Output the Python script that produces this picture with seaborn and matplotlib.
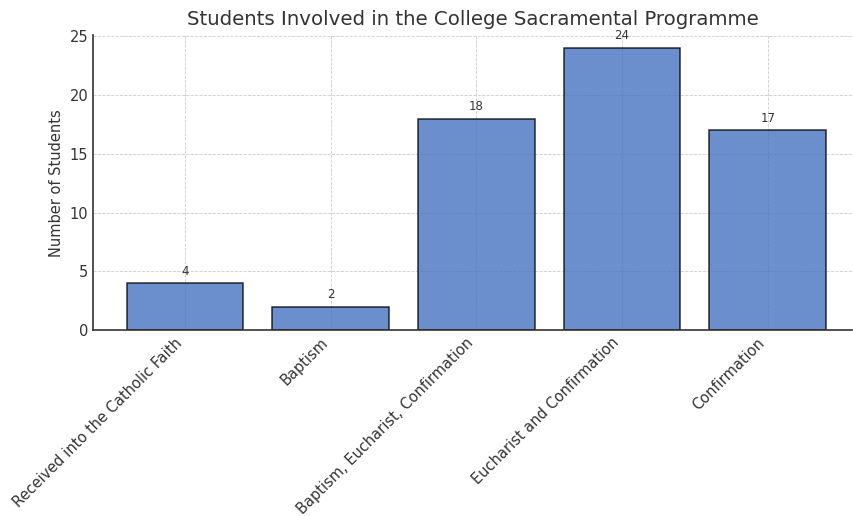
import matplotlib
matplotlib.use("Agg")
import matplotlib.pyplot as plt
import seaborn as sns
import pandas as pd

categories = [
    "Received into the Catholic Faith",
    "Baptism",
    "Baptism, Eucharist, Confirmation",
    "Eucharist and Confirmation",
    "Confirmation",
]
students = [4, 2, 18, 24, 17]

df = pd.DataFrame({"Category": categories, "Students": students})

sns.set_style("white")
plt.rcParams["font.family"] = ["DejaVu Sans"]
text_color = "#333333"

fig = plt.figure(figsize=(8.54, 5.16), dpi=100)
ax = fig.add_axes([0.109, 0.360, 0.889, 0.572])

sns.barplot(
    data=df, x="Category", y="Students", ax=ax,
    color="#4673C0", alpha=0.8, saturation=1, width=0.8,
    edgecolor="black", linewidth=1.1, errorbar=None,
)

for cont in ax.containers:
    ax.bar_label(cont, labels=[str(v) for v in students], padding=4,
                 fontsize=8.5, color=text_color)

ax.set_ylim(0, 25.1)
ax.set_xlim(-0.63, 4.58)
ax.set_yticks([0, 5, 10, 15, 20, 25])
ax.grid(True, linestyle="--", linewidth=0.6, color="#cccccc")
ax.set_axisbelow(True)

ax.set_title("Students Involved in the College Sacramental Programme",
             fontsize=14.2, color=text_color, pad=7)
ax.set_xlabel("")
ax.set_ylabel("Number of Students", fontsize=10.5, color=text_color)
ax.tick_params(axis="both", labelsize=10.5, colors=text_color, direction="in",
               length=3)
plt.setp(ax.get_xticklabels(), rotation=45, ha="right")

for side in ("top", "right"):
    ax.spines[side].set_visible(False)
for side in ("left", "bottom"):
    ax.spines[side].set_color("#333333")
    ax.spines[side].set_linewidth(1.2)

fig.savefig("out.png", dpi=100)
